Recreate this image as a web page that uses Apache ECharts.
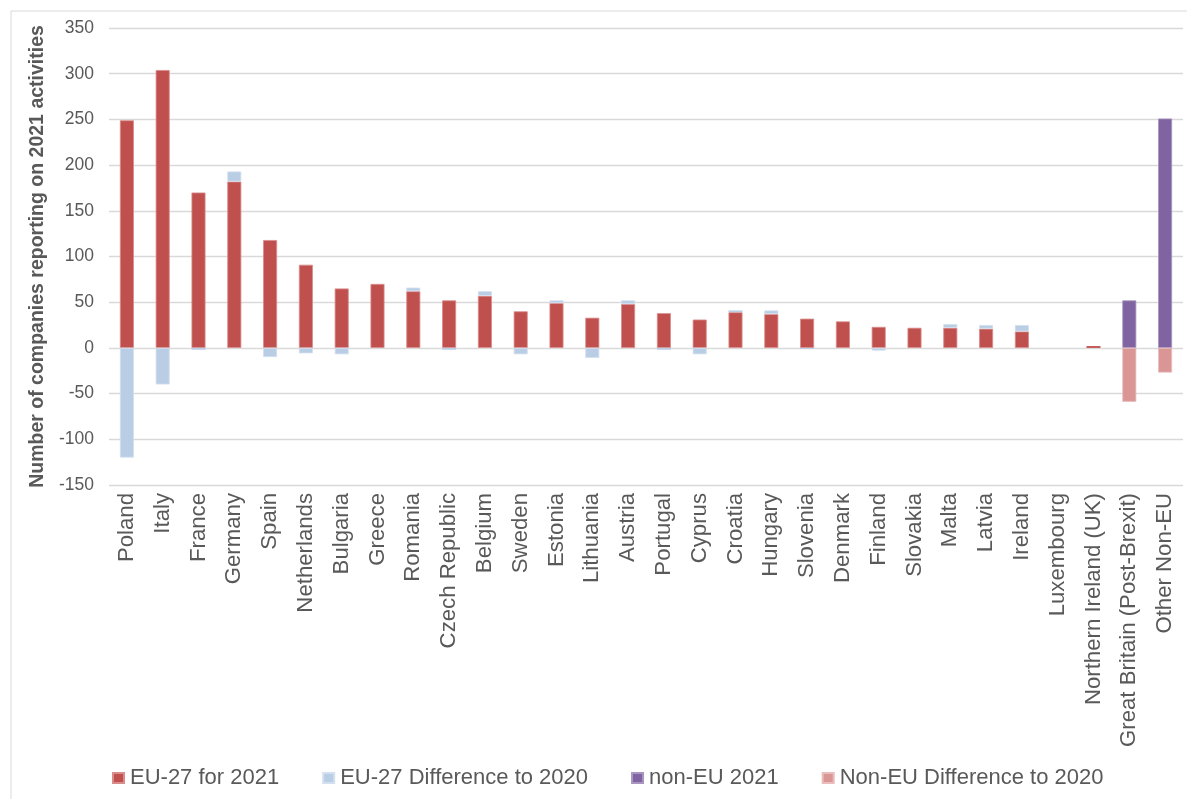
<!DOCTYPE html>
<html>
<head>
<meta charset="utf-8">
<script src="https://cdn.jsdelivr.net/npm/echarts@6/dist/echarts.min.js"></script>
<style>
  html, body { margin: 0; padding: 0; background: #fff; }
  #chart { width: 1187px; height: 799px; }
</style>
</head>
<body>
<div id="chart"></div>
<script>
// Companies reporting on 2021 activities, by country
const categories = ['Poland', 'Italy', 'France', 'Germany', 'Spain', 'Netherlands', 'Bulgaria', 'Greece',
  'Romania', 'Czech Republic', 'Belgium', 'Sweden', 'Estonia', 'Lithuania', 'Austria', 'Portugal',
  'Cyprus', 'Croatia', 'Hungary', 'Slovenia', 'Denmark', 'Finland', 'Slovakia', 'Malta', 'Latvia',
  'Ireland', 'Luxembourg', 'Northern Ireland (UK)', 'Great Britain (Post-Brexit)', 'Other Non-EU'];

const eu2021 = [249, 304, 170, 182, 118, 91, 65, 70, 62, 52, 57, 40, 49, 33, 48, 38, 31, 39, 37, 32, 29, 23, 22, 22, 21, 18, 0, 2, '-', '-'];
const euDiff = [-120, -40, -2, 11, -10, -6, -7, 0, 4, -2, 5, -7, 3, -11, 4, -2, -7, 2, 4, -1, 0, -3, 0, 4, 4, 7, 0, 0, '-', '-'];
const nonEu2021 = ['-', '-', '-', '-', '-', '-', '-', '-', '-', '-', '-', '-', '-', '-', '-', '-', '-', '-', '-', '-', '-', '-', '-', '-', '-', '-', '-', '-', 52, 251];
const nonEuDiff = ['-', '-', '-', '-', '-', '-', '-', '-', '-', '-', '-', '-', '-', '-', '-', '-', '-', '-', '-', '-', '-', '-', '-', '-', '-', '-', '-', '-', -59, -27];

const seriesNames = ['EU-27 for 2021', 'EU-27 Difference to 2020', 'non-EU 2021', 'Non-EU Difference to 2020'];
const colors = ['#C0504D', '#B9CDE5', '#8064A2', '#D99694'];
const edgeColors = ['#D98C8A', '#D3E0EF', '#A996C0', '#E8BDBC'];
const values = [eu2021, euDiff, nonEu2021, nonEuDiff];

const FONT = '"Liberation Sans", Arial, sans-serif';
const TEXT = '#595959';

// thin bars (zero or tiny values) get no outline so the fill stays visible
function withEdges(arr) {
  return arr.map(v => (typeof v === 'number' && Math.abs(v) < 3)
    ? { value: v, itemStyle: { borderWidth: 0 } }
    : v);
}

const chart = echarts.init(document.getElementById('chart'), null, { renderer: 'canvas' });

chart.setOption({
  animation: false,
  color: colors,
  textStyle: { fontFamily: FONT },
  graphic: [{
    type: 'rect',
    shape: { x: 11, y: 11, width: 1190, height: 800 },
    style: { fill: 'none', stroke: '#d9d9d9', lineWidth: 1 },
    silent: true,
    z: -1
  }],
  grid: { left: 109, right: 4, top: 28, bottom: 314, containLabel: false },
  legend: {
    data: seriesNames,
    left: 112,
    top: 767,
    padding: 0,
    icon: 'rect',
    itemWidth: 11,
    itemHeight: 10,
    itemGap: 43,
    textStyle: { fontFamily: FONT, fontSize: 22, color: TEXT, padding: [0, 0, 0, 1] }
  },
  xAxis: {
    type: 'category',
    data: categories,
    axisLine: { show: false, onZero: false },
    axisTick: { show: false },
    axisLabel: {
      interval: 0,
      rotate: 90,
      margin: 8,
      fontSize: 22.2,
      fontFamily: FONT,
      color: TEXT
    }
  },
  yAxis: {
    type: 'value',
    min: -150,
    max: 350,
    interval: 50,
    name: 'Number of companies reporting on 2021 activities',
    nameLocation: 'middle',
    nameGap: 52,
    nameRotate: 90,
    nameTextStyle: { fontFamily: FONT, fontSize: 19.5, fontWeight: 'bold', color: TEXT },
    axisLine: { show: false },
    axisTick: { show: false },
    axisLabel: { fontSize: 17.5, fontFamily: FONT, color: TEXT, margin: 15 },
    splitLine: { lineStyle: { color: '#d9d9d9', width: 1.3 } }
  },
  series: seriesNames.map((name, i) => ({
    name: name,
    type: 'bar',
    stack: 'total',
    barWidth: 14,
    data: withEdges(values[i]),
    itemStyle: {
      color: colors[i],
      borderColor: edgeColors[i],
      borderWidth: 0.8
    }
  }))
});
</script>
</body>
</html>
